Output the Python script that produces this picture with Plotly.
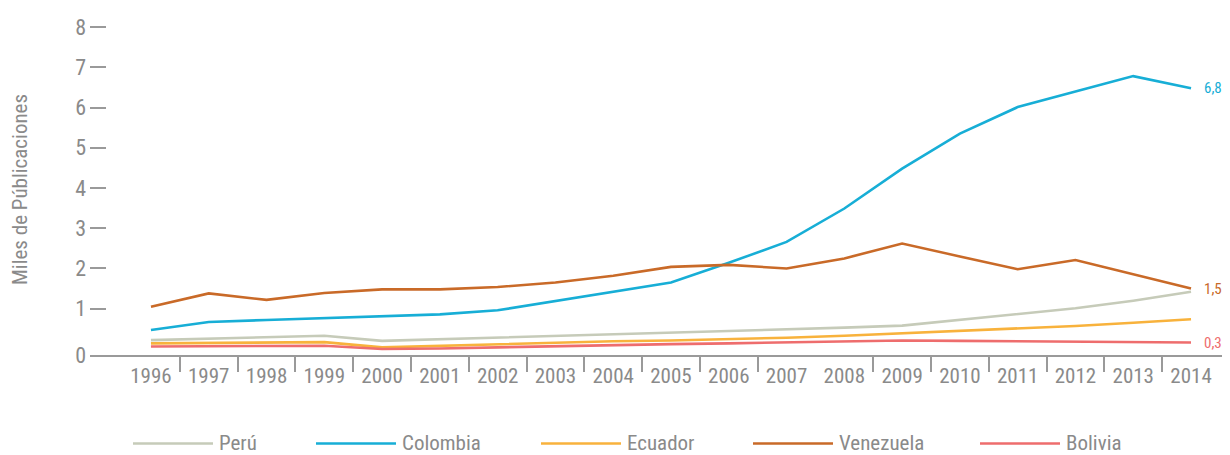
import plotly.graph_objects as go

years = list(range(1996, 2015))

peru = [0.22, 0.26, 0.29, 0.33, 0.20, 0.24, 0.28, 0.32, 0.36, 0.40,
        0.44, 0.48, 0.53, 0.58, 0.72, 0.86, 1.01, 1.20, 1.42]
colombia = [0.47, 0.67, 0.72, 0.77, 0.81, 0.86, 0.96, 1.19, 1.43, 1.65,
            2.14, 2.66, 3.49, 4.48, 5.35, 6.01, 6.40, 6.78, 6.48]
ecuador = [0.14, 0.15, 0.16, 0.17, 0.04, 0.08, 0.12, 0.15, 0.19, 0.21,
           0.24, 0.28, 0.33, 0.39, 0.45, 0.51, 0.57, 0.65, 0.74]
venezuela = [1.05, 1.38, 1.22, 1.39, 1.48, 1.48, 1.54, 1.65, 1.82, 2.04,
             2.09, 2.00, 2.25, 2.62, 2.30, 1.98, 2.21, 1.85, 1.50]
bolivia = [0.06, 0.07, 0.07, 0.08, 0.00, 0.01, 0.04, 0.07, 0.10, 0.12,
           0.14, 0.16, 0.19, 0.21, 0.20, 0.19, 0.18, 0.17, 0.16]

series_names = ["Perú", "Colombia", "Ecuador", "Venezuela", "Bolivia"]
series_values = [peru, colombia, ecuador, venezuela, bolivia]
series_colors = ["#c6cbb9", "#17aed6", "#f8b23c", "#c96a28", "#ee6d6d"]

end_labels = {"Colombia": "6,8", "Venezuela": "1,5", "Bolivia": "0,3"}

y_tick_labels = ["0", "1", "2", "3", "4", "5", "6", "7", "8"]
y_title = "Miles de Públicaciones"

FONT = "Roboto Condensed, Liberation Sans Narrow, DejaVu Sans Condensed, sans-serif"
GREY = "#8a8a8a"
AXIS = "#9a9a9a"

W, H = 1230, 455
ML, MR, MT, MB = 90, 8, 25, 100
PW, PH = W - ML - MR, H - MT - MB


def pxx(px):
    return (px - ML) / PW


def pxy(py):
    return (H - MB - py) / PH


fig = go.Figure()
for name, vals, col in zip(series_names, series_values, series_colors):
    fig.add_trace(go.Scatter(x=years, y=vals, mode="lines", name=name,
                             line=dict(color=col, width=2.6),
                             showlegend=False, hoverinfo="x+y+name"))

annotations = []
for name, vals, col in zip(series_names, series_values, series_colors):
    if name in end_labels:
        annotations.append(dict(x=years[-1], y=vals[-1], xref="x", yref="y",
                                text=end_labels[name], showarrow=False,
                                xanchor="left", yanchor="middle", xshift=11,
                                font=dict(family=FONT, size=15, color=col)))

# y axis title
annotations.append(dict(x=pxx(20), y=pxy(190), xref="paper", yref="paper",
                        text=y_title, textangle=-90, showarrow=False,
                        xanchor="center", yanchor="middle",
                        font=dict(family=FONT, size=21, color=GREY)))

# manual legend (long line samples)
legend_starts = [133, 316, 541, 753, 980]
shapes = []
for name, col, x0 in zip(series_names, series_colors, legend_starts):
    shapes.append(dict(type="line", xref="paper", yref="paper",
                       x0=pxx(x0), x1=pxx(x0 + 80), y0=pxy(443.5), y1=pxy(443.5),
                       line=dict(color=col, width=2.6)))
    annotations.append(dict(x=pxx(x0 + 84), y=pxy(443), xref="paper", yref="paper",
                            text=name, showarrow=False, xanchor="left",
                            yanchor="middle",
                            font=dict(family=FONT, size=21, color=GREY)))

y_min = -0.15
fig.update_layout(
    width=W, height=H,
    margin=dict(l=ML, r=MR, t=MT, b=MB),
    paper_bgcolor="white", plot_bgcolor="white",
    font=dict(family=FONT, color=GREY, size=21),
    showlegend=False,
    annotations=annotations,
    shapes=shapes,
    xaxis=dict(range=[1994.945, 2014.536], tickmode="array",
               tickvals=years, ticktext=[str(y) for y in years],
               ticks="", showgrid=False, zeroline=False,
               showline=True, linecolor=AXIS, linewidth=1.6,
               tickfont=dict(family=FONT, size=21, color=GREY),
               ticklabelstandoff=1, automargin=False,
               minor=dict(tickmode="array",
                          tickvals=[y + 0.5 for y in years[:-1] if y != 2007],
                          ticks="outside", ticklen=15, tickwidth=1.6,
                          tickcolor=AXIS, showgrid=False)),
    yaxis=dict(range=[y_min, 8.05], tickmode="array",
               tickvals=[y_min] + list(range(1, 9)), ticktext=y_tick_labels,
               ticks="inside", ticklen=16, tickwidth=1.6, tickcolor=AXIS,
               showgrid=False, zeroline=False, showline=False,
               ticklabelstandoff=3, automargin=False,
               tickfont=dict(family=FONT, size=22, color=GREY)),
)

fig.write_html("out.html", config={"displayModeBar": False},
               post_script="document.body.style.margin='0';document.body.style.padding='0';")
